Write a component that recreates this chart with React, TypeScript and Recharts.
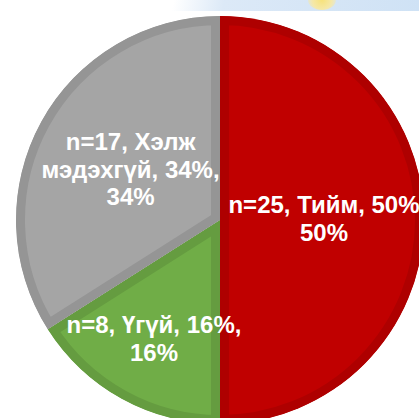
import React from "react";
import { PieChart, Pie, Sector, Cell } from "recharts";

const categories = ["Тийм", "Үгүй", "Хэлж мэдэхгүй"];
const counts = [25, 8, 17];
const percents = [50, 16, 34];

const fills = ["#C00000", "#70AD47", "#A5A5A5"];
const borders = ["#AE0000", "#659C40", "#959595"];
// Excel places each label at its own distance from the centre
const labelRadius = [104, 137, 102];
// the red label's trailing comma runs off the picture in the original
const separators = ["", ",", ","];

const RADIAN = Math.PI / 180;
const FONT = "'Liberation Sans', Arial, sans-serif";

function wrap(text: string, maxChars: number): string[] {
  const words = text.split(" ");
  const lines: string[] = [];
  let cur = "";
  for (const w of words) {
    const next = cur ? cur + " " + w : w;
    if (next.length > maxChars && cur) {
      lines.push(cur);
      cur = w;
    } else {
      cur = next;
    }
  }
  if (cur) lines.push(cur);
  return lines;
}

function SliceShape(props: any) {
  const idx = categories.indexOf(props.name ?? props.payload?.name);
  const clipId = `slice-clip-${idx}`;
  return (
    <g>
      <defs>
        <clipPath id={clipId}>
          <Sector {...props} stroke="none" />
        </clipPath>
      </defs>
      <Sector
        {...props}
        fill={fills[idx]}
        stroke={borders[idx]}
        strokeWidth={18}
        clipPath={`url(#${clipId})`}
      />
    </g>
  );
}

function renderLabel(props: any) {
  const { cx, cy, midAngle, index } = props;
  const r = labelRadius[index];
  const x = cx + r * Math.cos(-midAngle * RADIAN);
  const y = cy + r * Math.sin(-midAngle * RADIAN) - 2;
  const p = percents[index];
  const text = `n=${counts[index]}, ${categories[index]}, ${p}%${separators[index]} ${p}%`;
  const lines = wrap(text, 16);
  const lh = 27.5;
  const y0 = y - ((lines.length - 1) * lh) / 2;
  return (
    <text
      x={x}
      y={y0}
      textAnchor="middle"
      dominantBaseline="central"
      fill="#FFFFFF"
      fontFamily={FONT}
      fontWeight={700}
      fontSize={24}
    >
      {lines.map((l, i) => (
        <tspan key={i} x={x} y={y0 + i * lh}>
          {l}
        </tspan>
      ))}
    </text>
  );
}

export default function App() {
  const data = categories.map((name, i) => ({ name, value: counts[i] }));
  return (
    <div
      style={{
        position: "relative",
        width: 419,
        height: 418,
        overflow: "hidden",
        background: "#FFFFFF",
      }}
    >
      <style>{`body{margin:0}`}</style>
      <div
        style={{
          position: "absolute",
          left: 140,
          top: 0,
          width: 279,
          height: 11,
          background:
            "linear-gradient(100deg, rgba(255,255,255,1) 0%, rgba(255,255,255,1) 12%, #DCE9F7 30%, #CFE2F5 100%)",
        }}
      />
      <div
        style={{
          position: "absolute",
          left: 308,
          top: -10,
          width: 28,
          height: 20,
          borderRadius: "50%",
          background:
            "radial-gradient(circle, #F7E27A 0%, #F5E8A8 55%, rgba(220,233,247,0) 100%)",
        }}
      />
      <div style={{ position: "absolute", left: 0, top: 0 }}>
        <PieChart width={419} height={418}>
          <Pie
            data={data}
            dataKey="value"
            nameKey="name"
            cx={215}
            cy={215}
            outerRadius={204}
            startAngle={90}
            endAngle={-270}
            stroke="none"
            shape={SliceShape}
            label={renderLabel}
            labelLine={false}
            isAnimationActive={false}
          >
            {data.map((d, i) => (
              <Cell key={d.name} fill={fills[i]} />
            ))}
          </Pie>
        </PieChart>
      </div>
    </div>
  );
}
